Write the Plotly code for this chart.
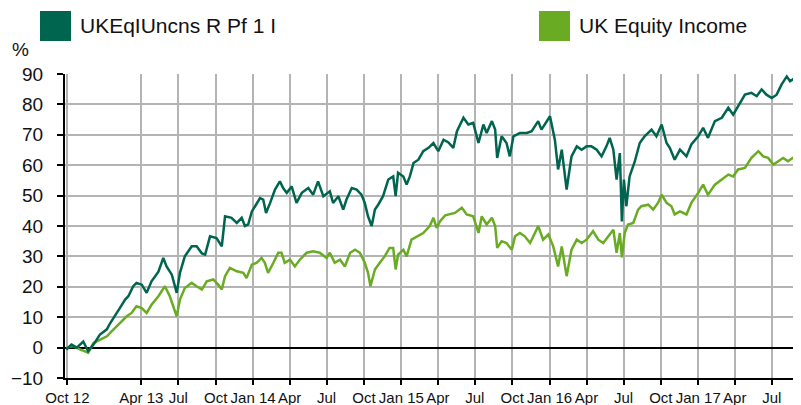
import plotly.graph_objects as go

# ---- data ----
fund_dates = [
    "2012-09-28", "2012-10-11", "2012-10-24", "2012-11-09", "2012-11-21", "2012-12-04", "2012-12-20",
    "2013-01-06", "2013-01-14", "2013-01-26", "2013-02-07", "2013-02-20", "2013-02-28", "2013-03-12",
    "2013-03-20", "2013-04-02", "2013-04-14", "2013-04-26", "2013-05-13", "2013-05-25", "2013-06-02",
    "2013-06-15", "2013-06-27", "2013-07-05", "2013-07-17", "2013-08-03", "2013-08-15", "2013-08-28",
    "2013-09-05", "2013-09-17", "2013-10-03", "2013-10-16", "2013-10-24", "2013-11-09", "2013-11-22",
    "2013-12-04", "2013-12-12", "2013-12-20", "2013-12-29",
    "2014-01-06", "2014-01-18", "2014-01-26", "2014-02-02", "2014-02-12", "2014-02-24", "2014-03-08",
    "2014-03-16", "2014-03-25", "2014-04-06", "2014-04-18", "2014-05-01", "2014-05-17", "2014-05-29",
    "2014-06-10", "2014-06-23", "2014-07-09", "2014-07-17", "2014-07-30", "2014-08-11", "2014-08-19",
    "2014-09-01", "2014-09-13", "2014-09-25", "2014-10-03", "2014-10-11", "2014-10-20", "2014-10-28",
    "2014-11-05", "2014-11-17", "2014-11-30", "2014-12-12", "2014-12-18", "2014-12-24",
    "2015-01-06", "2015-01-14", "2015-01-22", "2015-01-31", "2015-02-12", "2015-02-24", "2015-03-09",
    "2015-03-21", "2015-04-02", "2015-04-15", "2015-04-27", "2015-05-09", "2015-05-18", "2015-06-03",
    "2015-06-15", "2015-06-27", "2015-07-10", "2015-07-22", "2015-07-30", "2015-08-12", "2015-08-20",
    "2015-08-25", "2015-09-05", "2015-09-17", "2015-09-25", "2015-10-04", "2015-10-20", "2015-11-06",
    "2015-11-18", "2015-12-04", "2015-12-12", "2015-12-25",
    "2016-01-02", "2016-01-14", "2016-01-22", "2016-01-31", "2016-02-12", "2016-02-24", "2016-03-08",
    "2016-03-20", "2016-04-01", "2016-04-13", "2016-04-26", "2016-05-08", "2016-05-20", "2016-05-28",
    "2016-06-06", "2016-06-14", "2016-06-22", "2016-06-27", "2016-07-02", "2016-07-08", "2016-07-16",
    "2016-07-29", "2016-08-10", "2016-08-22", "2016-09-08", "2016-09-20", "2016-10-03", "2016-10-15",
    "2016-10-23", "2016-11-04", "2016-11-17", "2016-12-03", "2016-12-15",
    "2017-01-01", "2017-01-13", "2017-01-25", "2017-02-11", "2017-02-28", "2017-03-16", "2017-03-28",
    "2017-04-09", "2017-04-26", "2017-05-12", "2017-05-25", "2017-06-06", "2017-06-18", "2017-07-01",
    "2017-07-13", "2017-07-25", "2017-08-07", "2017-08-15", "2017-08-27", "2017-09-08",
]
fund_values = [
    -0.7, 1.0, 0.0, 2.0, -1.2, 1.0, 4.3,
    6.0, 8.0, 10.3, 13.0, 15.8, 16.9, 20.2,
    21.3, 20.7, 18.0, 21.8, 25.0, 29.5, 26.7,
    24.0, 18.0, 24.6, 30.0, 33.3, 33.3, 31.0,
    30.6, 36.6, 36.0, 33.3, 43.2, 42.7, 41.0,
    42.7, 40.0, 40.5, 44.8,
    46.5, 49.2, 48.7, 44.3, 47.6, 52.0, 54.7,
    52.5, 50.9, 53.0, 47.6, 50.9, 52.5, 50.3,
    54.7, 49.8, 51.4, 47.6, 49.8, 45.4, 48.7,
    52.5, 52.0, 50.3, 47.6, 43.2, 40.0, 45.4,
    47.0, 49.8, 55.3, 56.3, 49.8, 57.5,
    56.3, 53.6, 56.3, 60.7, 61.8, 64.6, 65.7,
    67.3, 64.6, 68.4, 67.5, 65.7, 71.2, 75.6,
    73.4, 73.9, 67.3, 73.4, 70.6, 74.5, 71.7,
    62.4, 69.5, 67.3, 62.9, 69.5, 70.6, 70.6,
    71.2, 74.5, 71.7, 74.5,
    76.1, 68.4, 58.6, 65.1, 52.0, 62.9, 66.2,
    65.1, 66.2, 66.2, 65.1, 62.9, 66.2, 69.0,
    65.1, 55.3, 64.0, 41.5, 55.3, 46.5, 56.3,
    61.3, 67.3, 69.5, 71.7, 69.5, 73.4, 67.3,
    65.7, 61.8, 65.1, 62.9, 66.8,
    69.5, 72.3, 69.0, 74.5, 75.6, 78.9, 76.6,
    79.4, 83.2, 83.8, 82.7, 84.9, 83.2, 82.1,
    83.2, 86.5, 89.2, 87.6, 88.7, 88.2,
]

sector_dates = [
    "2012-09-28", "2012-10-15", "2012-11-01", "2012-11-21", "2012-12-04", "2012-12-20",
    "2013-01-06", "2013-01-22", "2013-02-07", "2013-02-24", "2013-03-08", "2013-03-20", "2013-04-02",
    "2013-04-14", "2013-04-26", "2013-05-13", "2013-05-29", "2013-06-10", "2013-06-27", "2013-07-05",
    "2013-07-17", "2013-08-03", "2013-08-15", "2013-08-28", "2013-09-09", "2013-09-25", "2013-10-07",
    "2013-10-16", "2013-10-24", "2013-11-05", "2013-11-22", "2013-12-08", "2013-12-16", "2013-12-29",
    "2014-01-10", "2014-01-22", "2014-01-30", "2014-02-07", "2014-02-20", "2014-03-04", "2014-03-12",
    "2014-03-20", "2014-04-02", "2014-04-14", "2014-04-26", "2014-05-13", "2014-05-29", "2014-06-14",
    "2014-07-01", "2014-07-09", "2014-07-21", "2014-08-03", "2014-08-15", "2014-08-28", "2014-09-09",
    "2014-09-21", "2014-10-03", "2014-10-11", "2014-10-17", "2014-10-28", "2014-11-09", "2014-11-21",
    "2014-12-03", "2014-12-12", "2014-12-18", "2014-12-24",
    "2015-01-06", "2015-01-14", "2015-01-26", "2015-02-08", "2015-02-24", "2015-03-12", "2015-03-21",
    "2015-03-29", "2015-04-06", "2015-04-19", "2015-04-27", "2015-05-13", "2015-05-30", "2015-06-11",
    "2015-06-27", "2015-07-10", "2015-07-18", "2015-07-30", "2015-08-12", "2015-08-20", "2015-08-25",
    "2015-09-05", "2015-09-17", "2015-09-30", "2015-10-08", "2015-10-20", "2015-11-01", "2015-11-14",
    "2015-11-26", "2015-12-04", "2015-12-16", "2015-12-29",
    "2016-01-10", "2016-01-22", "2016-01-31", "2016-02-12", "2016-02-24", "2016-03-08", "2016-03-20",
    "2016-04-01", "2016-04-17", "2016-04-30", "2016-05-12", "2016-05-24", "2016-06-06", "2016-06-14",
    "2016-06-22", "2016-06-27", "2016-07-04", "2016-07-12", "2016-07-25", "2016-08-06", "2016-08-14",
    "2016-08-31", "2016-09-12", "2016-09-24", "2016-10-03", "2016-10-15", "2016-10-27", "2016-11-04",
    "2016-11-17", "2016-12-03", "2016-12-15",
    "2017-01-01", "2017-01-13", "2017-01-25", "2017-02-11", "2017-02-28", "2017-03-16", "2017-03-28",
    "2017-04-09", "2017-04-26", "2017-05-12", "2017-05-29", "2017-06-10", "2017-06-22", "2017-07-05",
    "2017-07-17", "2017-07-29", "2017-08-10", "2017-08-22", "2017-09-08",
]
sector_values = [
    0.0, 0.5, -0.6, -1.7, 1.5, 2.6,
    3.7, 5.9, 8.1, 10.3, 11.4, 13.6, 13.0,
    11.4, 14.1, 16.9, 20.2, 16.9, 10.3, 15.8,
    19.6, 21.3, 20.2, 19.1, 21.8, 22.4, 20.7,
    19.1, 23.5, 26.2, 25.1, 24.6, 22.9, 27.3,
    27.9, 29.5, 27.9, 24.6, 27.9, 31.2, 31.2,
    27.9, 28.9, 26.7, 28.9, 31.2, 31.7, 31.2,
    29.5, 31.2, 27.9, 28.9, 26.7, 31.2, 32.2,
    31.2, 27.9, 24.6, 20.2, 25.7, 27.9, 30.0,
    32.8, 32.8, 25.7, 30.6,
    32.2, 30.0, 35.5, 36.6, 37.7, 40.0, 42.7,
    39.4, 41.5, 43.5, 43.8, 44.3, 46.0, 43.8,
    43.2, 37.7, 43.2, 40.5, 42.7, 40.0, 32.8,
    35.0, 34.4, 32.2, 36.6, 37.7, 36.6, 34.4,
    37.7, 40.0, 35.5, 37.2,
    33.3, 26.7, 33.3, 23.5, 32.2, 35.5, 34.4,
    35.5, 38.3, 35.5, 34.4, 36.6, 38.8, 31.2,
    37.7, 29.7, 37.7, 40.5, 41.0, 45.4, 46.5,
    47.0, 45.4, 47.6, 50.3, 47.6, 46.5, 43.8,
    44.8, 43.8, 47.6,
    50.9, 53.6, 50.3, 53.6, 55.3, 56.9, 56.3,
    58.6, 59.1, 62.4, 64.6, 62.9, 62.4, 60.2,
    61.3, 62.4, 61.3, 62.4, 61.8,
]

series_names = ["UKEqIUncns R Pf 1 I", "UK Equity Income"]
series_colors = ["#00654f", "#6aab24"]

tick_dates = [
    "2012-10-01", "2013-04-01", "2013-07-01", "2013-10-01", "2014-01-01", "2014-04-01",
    "2014-07-01", "2014-10-01", "2015-01-01", "2015-04-01", "2015-07-01", "2015-10-01",
    "2016-01-01", "2016-04-01", "2016-07-01", "2016-10-01", "2017-01-01", "2017-04-01",
    "2017-07-01",
]
tick_labels = [
    "Oct 12", "Apr 13", "Jul", "Oct", "Jan 14", "Apr", "Jul", "Oct", "Jan 15", "Apr",
    "Jul", "Oct", "Jan 16", "Apr", "Jul", "Oct", "Jan 17", "Apr", "Jul",
]
y_ticks = [-10, 0, 10, 20, 30, 40, 50, 60, 70, 80, 90]

FONT = "Liberation Sans, Arial, sans-serif"

# page is rendered with an 8px body margin; plot area spans page x 65..801, y 74..378
PL, PT, PW, PH = 65, 74, 736, 304

fig = go.Figure()
fig.add_trace(go.Scatter(x=sector_dates, y=sector_values, mode="lines",
                         line=dict(color=series_colors[1], width=2.5),
                         name=series_names[1], showlegend=False))
fig.add_trace(go.Scatter(x=fund_dates, y=fund_values, mode="lines",
                         line=dict(color=series_colors[0], width=2.5),
                         name=series_names[0], showlegend=False))

def px(x):
    return (x - PL) / PW

def py(y):
    return (PT + PH - y) / PH

legend_pos = [(40, 78), (539, 577)]
shapes = []
annotations = []
for (sx, tx), name, col in zip(legend_pos, series_names, series_colors):
    shapes.append(dict(type="rect", xref="paper", yref="paper",
                       x0=px(sx), x1=px(sx + 31), y0=py(41), y1=py(11),
                       fillcolor=col, line=dict(width=0)))
    annotations.append(dict(text=name, xref="paper", yref="paper",
                            x=px(tx), y=py(25), xanchor="left", yanchor="middle",
                            showarrow=False,
                            font=dict(size=21, color="#111111", family=FONT)))
annotations.append(dict(text="%", xref="paper", yref="paper",
                        x=px(10), y=py(50), xanchor="left", yanchor="middle",
                        showarrow=False,
                        font=dict(size=19, color="#111111", family=FONT)))

fig.update_layout(
    width=793, height=397,
    margin=dict(l=PL - 8, r=0, t=PT - 8, b=397 - (PT - 8) - PH, pad=0),
    paper_bgcolor="white", plot_bgcolor="white",
    font=dict(family=FONT, color="#111111"),
    shapes=shapes, annotations=annotations,
    xaxis=dict(type="date", range=["2012-09-25", "2017-09-11"],
               tickmode="array", tickvals=tick_dates, ticktext=tick_labels,
               showgrid=True, gridcolor="#b4b4b4", gridwidth=2,
               showline=True, linecolor="black", linewidth=2,
               ticks="outside", ticklen=5, tickwidth=2, tickcolor="black",
               tickfont=dict(size=15, family=FONT, color="#111111"),
               zeroline=False),
    yaxis=dict(range=[-10, 90], tickmode="array", tickvals=y_ticks,
               showgrid=True, gridcolor="#b4b4b4", gridwidth=2,
               showline=True, linecolor="black", linewidth=2,
               ticks="outside", ticklen=6, tickwidth=2, tickcolor="black",
               ticklabelstandoff=10,
               tickfont=dict(size=19, family=FONT, color="#111111"),
               zeroline=True, zerolinecolor="black", zerolinewidth=2),
)

fig.write_html("out.html")
